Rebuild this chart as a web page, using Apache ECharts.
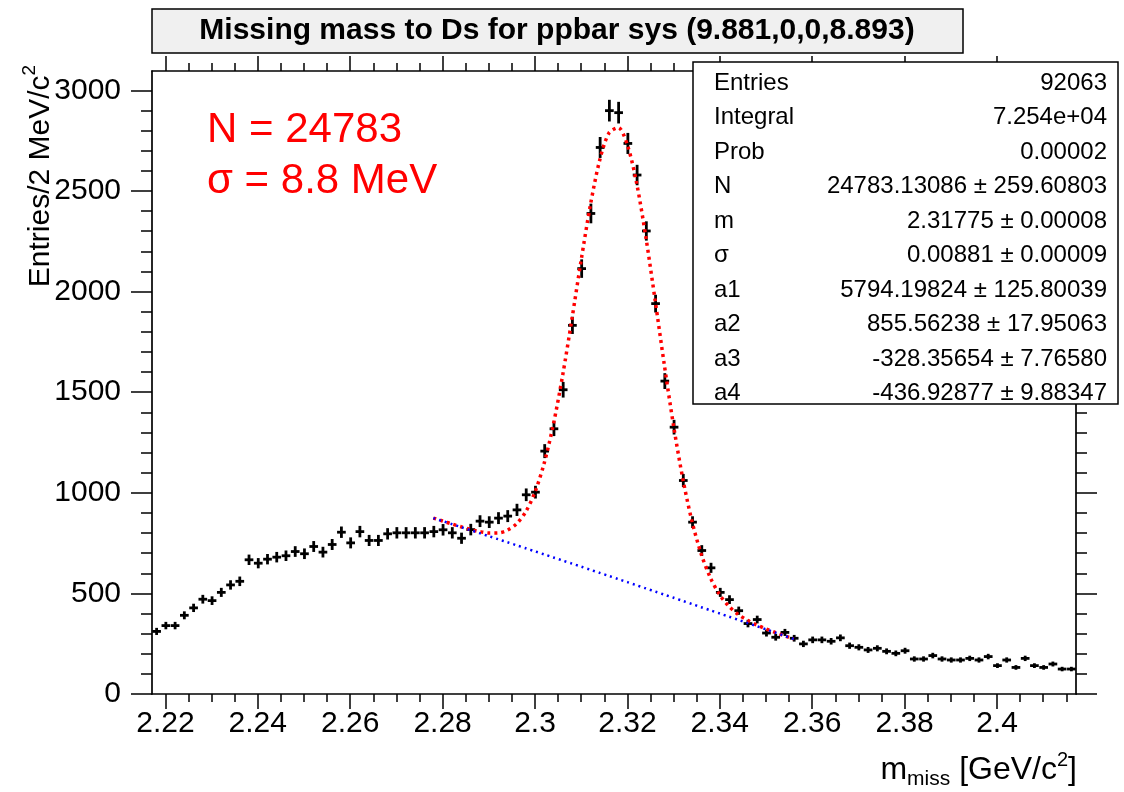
<!DOCTYPE html>
<html><head><meta charset="utf-8">
<script src="https://cdn.jsdelivr.net/npm/echarts@6/dist/echarts.min.js"></script>
<style>html,body{margin:0;padding:0;background:#fff}#c{width:1124px;height:792px}</style>
</head><body><div id="c"></div><script>
// ---- data ----
const xMin = 2.2171, xMax = 2.4171, binWidth = 0.002;
const yMin = 0, yMax = 3096;
const binCenters = [
2.2181,2.2201,2.2221,2.2241,2.2261,2.2281,2.2301,2.2321,2.2341,2.2361,
2.2381,2.2401,2.2421,2.2441,2.2461,2.2481,2.2501,2.2521,2.2541,2.2561,
2.2581,2.2601,2.2621,2.2641,2.2661,2.2681,2.2701,2.2721,2.2741,2.2761,
2.2781,2.2801,2.2821,2.2841,2.2861,2.2881,2.2901,2.2921,2.2941,2.2961,
2.2981,2.3001,2.3021,2.3041,2.3061,2.3081,2.3101,2.3121,2.3141,2.3161,
2.3181,2.3201,2.3221,2.3241,2.3261,2.3281,2.3301,2.3321,2.3341,2.3361,
2.3381,2.3401,2.3421,2.3441,2.3461,2.3481,2.3501,2.3521,2.3541,2.3561,
2.3581,2.3601,2.3621,2.3641,2.3661,2.3681,2.3701,2.3721,2.3741,2.3761,
2.3781,2.3801,2.3821,2.3841,2.3861,2.3881,2.3901,2.3921,2.3941,2.3961,
2.3981,2.4001,2.4021,2.4041,2.4061,2.4081,2.4101,2.4121,2.4141,2.4161];
const counts = [
311,340,340,391,428,471,464,505,542,560,
667,650,670,680,687,708,697,733,705,743,
804,751,807,763,763,796,801,801,801,801,
807,816,801,774,817,859,854,874,884,915,
990,1003,1207,1318,1512,1832,2114,2388,2716,2899,
2889,2736,2579,2301,1940,1555,1326,1061,854,713,
627,505,469,414,350,370,303,282,306,277,
249,269,269,262,279,240,232,219,227,212,
202,215,174,174,191,174,169,169,177,169,
186,141,169,132,177,141,132,149,124,124];
const fitX = [2.278,2.280,2.282,2.284,2.286,2.288,2.290,2.292,2.294,2.296,
2.298,2.300,2.302,2.304,2.306,2.308,2.310,2.312,2.314,2.316,
2.318,2.320,2.322,2.324,2.326,2.328,2.330,2.332,2.334,2.336,
2.338,2.340,2.342,2.344,2.346,2.348,2.350,2.352,2.354,2.356];
const fitTotal = [874.3,859.6,845.0,830.9,817.9,807.0,800.2,800.7,813.6,845.7,
905.9,1003.8,1147.7,1342.5,1585.5,1864.7,2157.0,2431.2,2652.1,2787.3,
2814.8,2728.3,2538.2,2269.9,1957.1,1634.5,1331.9,1069.4,856.6,693.9,
575.5,492.4,435.0,395.0,365.8,343.0,323.8,306.3,289.7,273.5];
const fitBkg = [874.2,859.3,844.4,829.4,814.5,799.5,784.4,769.4,754.3,739.2,
724.0,708.9,693.7,678.5,663.2,648.0,632.7,617.3,602.0,586.6,
571.2,555.8,540.3,524.8,509.3,493.8,478.2,462.6,447.0,431.3,
415.6,399.9,384.2,368.5,352.7,336.9,321.0,305.2,289.3,273.3];
const xMajorTicks = [2.22,2.24,2.26,2.28,2.30,2.32,2.34,2.36,2.38,2.40];
const xTickLabels = ['2.22','2.24','2.26','2.28','2.3','2.32','2.34','2.36','2.38','2.4'];
const xMinorTicks = [2.22,2.225,2.23,2.235,2.24,2.245,2.25,2.255,2.26,2.265,2.27,2.275,2.28,2.285,2.29,2.295,
2.30,2.305,2.31,2.315,2.32,2.325,2.33,2.335,2.34,2.345,2.35,2.355,2.36,2.365,2.37,2.375,2.38,2.385,2.39,2.395,2.40,2.405,2.41,2.415];
const yMajorTicks = [0,500,1000,1500,2000,2500,3000];
const yTickLabels = ['0','500','1000','1500','2000','2500','3000'];
const yMinorTicks = [0,100,200,300,400,500,600,700,800,900,1000,1100,1200,1300,1400,1500,1600,1700,1800,1900,
2000,2100,2200,2300,2400,2500,2600,2700,2800,2900,3000];
const titleText = 'Missing mass to Ds for ppbar sys (9.881,0,0,8.893)';
const statNames = ['Entries','Integral','Prob','N','m','\u03c3','a1','a2','a3','a4'];
const statValues = ['92063','7.254e+04','0.00002','24783.13086 \u00b1 259.60803','2.31775 \u00b1 0.00008',
'0.00881 \u00b1 0.00009','5794.19824 \u00b1 125.80039','855.56238 \u00b1 17.95063','-328.35654 \u00b1 7.76580','-436.92877 \u00b1 9.88347'];
const annot = ['N = 24783', '\u03c3 = 8.8 MeV'];

// ---- chart ----
const FONT = 'Liberation Sans, Arial, Helvetica, sans-serif';
const chart = echarts.init(document.getElementById('c'), null, {renderer: 'canvas'});
const lineBlack = {color: '#000', width: 1.7};
const tickStyle = {color: '#000', width: 1.5};
function labelFor(ticks, labels) {
  return v => { for (let i = 0; i < ticks.length; i++) if (Math.abs(ticks[i] - v) < 1e-7) return labels[i]; return ''; };
}
function xAx(pos, major, showLine, showLabel) {
  return {
    type: 'value', position: pos, min: xMin, max: xMax, scale: true,
    axisLine: {show: showLine, onZero: false, lineStyle: lineBlack},
    axisTick: {show: true, length: major ? 15 : 8, customValues: major ? xMajorTicks : xMinorTicks, lineStyle: tickStyle},
    axisLabel: {show: showLabel, customValues: xMajorTicks, formatter: labelFor(xMajorTicks, xTickLabels),
      fontSize: 30, fontFamily: FONT, color: '#000', margin: 15},
    splitLine: {show: false}
  };
}
function yAx(pos, major, showLine, showLabel) {
  return {
    type: 'value', position: pos, min: yMin, max: yMax,
    axisLine: {show: showLine, onZero: false, lineStyle: lineBlack},
    axisTick: {show: true, length: major ? 21 : 11, customValues: major ? yMajorTicks : yMinorTicks, lineStyle: tickStyle},
    axisLabel: {show: showLabel, customValues: yMajorTicks, formatter: labelFor(yMajorTicks, yTickLabels),
      fontSize: 30, fontFamily: FONT, color: '#000', margin: 31},
    splitLine: {show: false}
  };
}
const histData = binCenters.map((x, i) => [x, counts[i], Math.sqrt(counts[i])]);
const statRowY = [83, 117, 152, 186, 221, 255, 290, 324, 359, 393];
const graphics = [
  {type: 'rect', z: 100, shape: {x: 152, y: 9, width: 811, height: 44},
   style: {fill: '#f0f0f0', stroke: '#000', lineWidth: 1.5}},
  {type: 'text', z: 101, x: 557, y: 31, style: {text: titleText, fontSize: 30, fontWeight: 'bold', fontFamily: FONT,
   fill: '#000', align: 'center', verticalAlign: 'middle'}},
  {type: 'rect', z: 100, shape: {x: 693, y: 62, width: 425, height: 342},
   style: {fill: '#fff', stroke: '#000', lineWidth: 1.5}},
  {type: 'text', z: 101, x: 207, y: 130, style: {text: annot[0], fontSize: 42, fontFamily: FONT, fill: '#ff0000', align: 'left', verticalAlign: 'middle'}},
  {type: 'text', z: 101, x: 207, y: 181, style: {text: annot[1], fontSize: 42, fontFamily: FONT, fill: '#ff0000', align: 'left', verticalAlign: 'middle'}},
  {type: 'text', z: 101, x: 38, y: 176, rotation: Math.PI / 2,
   style: {text: '{a|Entries/2 MeV/c}{s|2}', align: 'center', verticalAlign: 'middle',
     rich: {a: {fontSize: 30, fontFamily: FONT, fill: '#000', lineHeight: 36, verticalAlign: 'bottom'},
            s: {fontSize: 19, fontFamily: FONT, fill: '#000', lineHeight: 36, verticalAlign: 'top'}}}},
  {type: 'text', z: 101, x: 1077, y: 770,
   style: {text: '{a|m}{b|miss}{a| [GeV/c}{s|2}{a|]}', align: 'right', verticalAlign: 'middle',
     rich: {a: {fontSize: 32, fontFamily: FONT, fill: '#000', lineHeight: 40, verticalAlign: 'middle'},
            b: {fontSize: 21, fontFamily: FONT, fill: '#000', lineHeight: 40, verticalAlign: 'bottom'},
            s: {fontSize: 20, fontFamily: FONT, fill: '#000', lineHeight: 40, verticalAlign: 'top'}}}}
];
statNames.forEach((n, i) => {
  graphics.push({type: 'text', z: 101, x: 714, y: statRowY[i], style: {text: n, fontSize: 24, fontFamily: FONT, fill: '#000', align: 'left', verticalAlign: 'middle'}});
  graphics.push({type: 'text', z: 101, x: 1107, y: statRowY[i], style: {text: statValues[i], fontSize: 24, fontFamily: FONT, fill: '#000', align: 'right', verticalAlign: 'middle'}});
});

chart.setOption({
  animation: false,
  backgroundColor: '#fff',
  grid: {left: 152, right: 48, top: 71, bottom: 98},
  xAxis: [xAx('bottom', true, true, true), xAx('bottom', false, false, false), xAx('top', true, true, false), xAx('top', false, false, false)],
  yAxis: [yAx('left', true, true, true), yAx('left', false, false, false), yAx('right', true, true, false), yAx('right', false, false, false)],
  series: [
    {type: 'custom', name: 'data', xAxisIndex: 0, yAxisIndex: 0, z: 3, data: histData,
     encode: {x: 0, y: 1},
     renderItem: function (params, api) {
       const x = api.value(0), y = api.value(1), e = api.value(2);
       const pL = api.coord([x - binWidth * 0.47, y]);
       const pR = api.coord([x + binWidth * 0.47, y]);
       const pT = api.coord([x, y + e]);
       const pB = api.coord([x, y - e]);
       return {type: 'group', children: [
         {type: 'line', shape: {x1: pL[0], y1: pL[1], x2: pR[0], y2: pR[1]}, style: {stroke: '#000', lineWidth: 2.8}},
         {type: 'line', shape: {x1: pT[0], y1: pT[1], x2: pB[0], y2: pB[1]}, style: {stroke: '#000', lineWidth: 2.8}}
       ]};
     }},
    {type: 'line', name: 'fit', xAxisIndex: 0, yAxisIndex: 0, z: 4, showSymbol: false, smooth: 0.3,
     data: fitX.map((x, i) => [x, fitTotal[i]]),
     lineStyle: {color: '#ff0000', width: 3.5, type: [3, 4]}},
    {type: 'line', name: 'bkg', xAxisIndex: 0, yAxisIndex: 0, z: 5, showSymbol: false, smooth: 0.3,
     data: fitX.map((x, i) => [x, fitBkg[i]]),
     lineStyle: {color: '#0000ff', width: 2.5, type: [2, 4]}}
  ],
  graphic: graphics
});
</script></body></html>
